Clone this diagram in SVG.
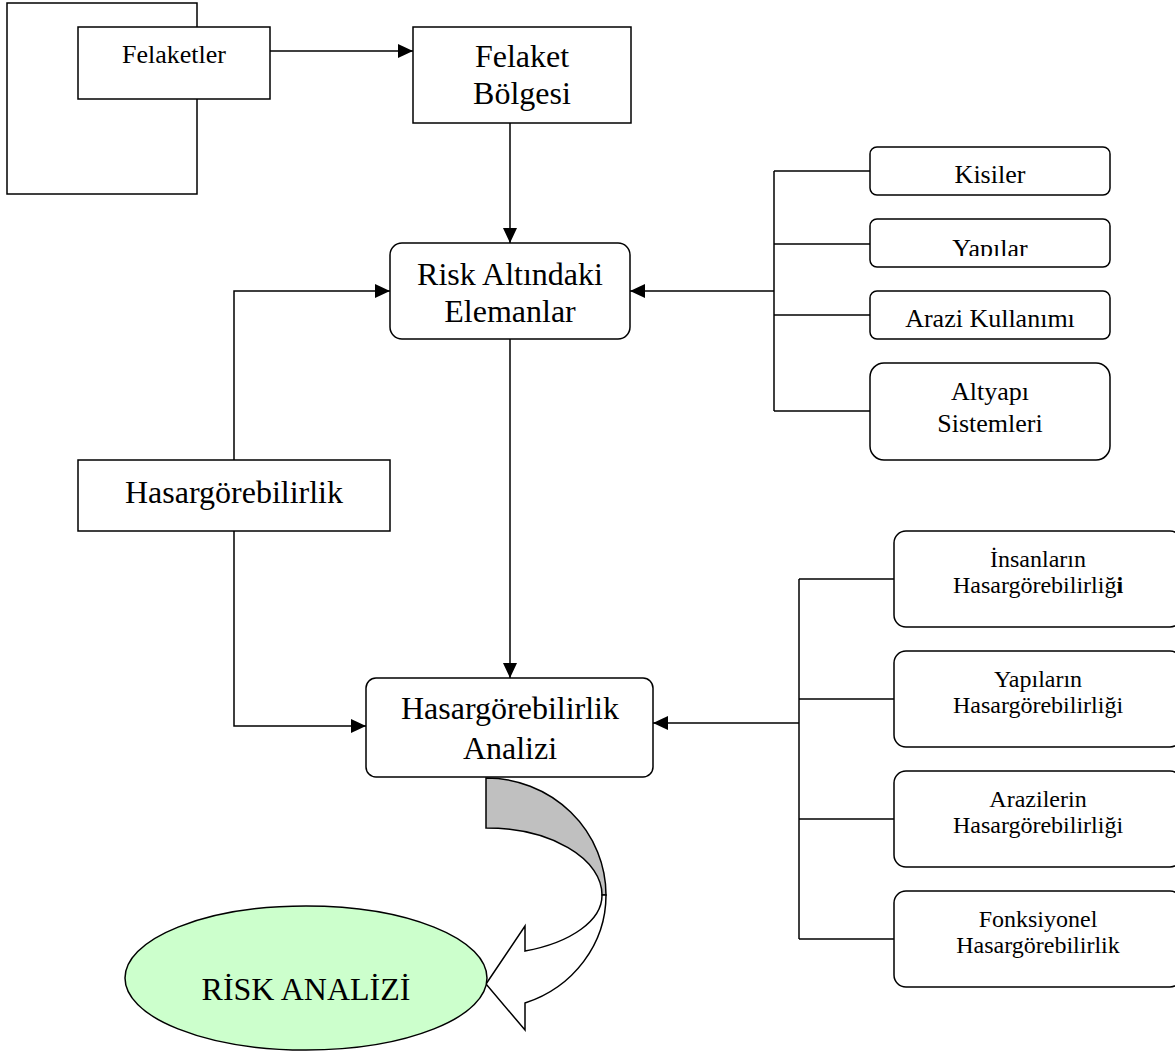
<svg xmlns="http://www.w3.org/2000/svg" width="1175" height="1059" viewBox="0 0 1175 1059">
<style>
.bx{fill:#fff;stroke:#000;stroke-width:1.5}
.ln{fill:none;stroke:#000;stroke-width:1.5}
.t{font-family:"Liberation Serif","Times New Roman",serif;fill:#000;text-anchor:middle}
.s26{font-size:26px}
.s24{font-size:24px}
.s32{font-size:32px}
</style>
<defs>
<marker id="ah" markerUnits="userSpaceOnUse" markerWidth="16" markerHeight="14" refX="15" refY="7" orient="auto">
<path d="M0,0 L15,7 L0,14 Z" fill="#000"/>
</marker>
<clipPath id="yclip"><rect x="870" y="219" width="240" height="37"/></clipPath>
</defs>
<rect width="1175" height="1059" fill="#fff"/>

<g id="connectors">
<line class="ln" x1="270" y1="51" x2="413" y2="51" marker-end="url(#ah)"/>
<line class="ln" x1="510" y1="123" x2="510" y2="243" marker-end="url(#ah)"/>
<polyline class="ln" points="234,460 234,291 390,291" marker-end="url(#ah)"/>
<line class="ln" x1="774" y1="171" x2="774" y2="411"/>
<line class="ln" x1="774" y1="171" x2="870" y2="171"/>
<line class="ln" x1="774" y1="244" x2="870" y2="244"/>
<line class="ln" x1="774" y1="315" x2="870" y2="315"/>
<line class="ln" x1="774" y1="411" x2="870" y2="411"/>
<line class="ln" x1="774" y1="291" x2="630" y2="291" marker-end="url(#ah)"/>
<line class="ln" x1="510" y1="339" x2="510" y2="678" marker-end="url(#ah)"/>
<polyline class="ln" points="234,531 234,726 366,726" marker-end="url(#ah)"/>
<line class="ln" x1="799" y1="579" x2="799" y2="939"/>
<line class="ln" x1="799" y1="579" x2="894" y2="579"/>
<line class="ln" x1="799" y1="699" x2="894" y2="699"/>
<line class="ln" x1="799" y1="819" x2="894" y2="819"/>
<line class="ln" x1="799" y1="939" x2="894" y2="939"/>
<line class="ln" x1="799" y1="723" x2="653" y2="723" marker-end="url(#ah)"/>
</g>

<g id="frame">
<rect class="bx" x="7" y="3" width="190" height="191"/>
</g>
<g id="felaketler">
<rect class="bx" x="78" y="27" width="192" height="72"/>
<text class="t s26" x="174" y="63">Felaketler</text>
</g>
<g id="felaket-bolgesi">
<rect class="bx" x="413" y="27" width="218" height="96"/>
<text class="t s32" x="522" y="67">Felaket</text>
<text class="t s32" x="522" y="104">Bölgesi</text>
</g>
<g id="risk-altindaki">
<rect class="bx" x="390" y="243" width="240" height="96" rx="12"/>
<text class="t s32" x="510" y="285">Risk Altındaki</text>
<text class="t s32" x="510" y="322">Elemanlar</text>
</g>
<g id="kisiler">
<rect class="bx" x="870" y="147" width="240" height="48" rx="7"/>
<text class="t s26" x="990" y="183">Kisiler</text>
</g>
<g id="yapilar">
<rect class="bx" x="870" y="219" width="240" height="48" rx="7"/>
<text class="t s26" x="990" y="257" clip-path="url(#yclip)">Yapılar</text>
</g>
<g id="arazi-kullanimi">
<rect class="bx" x="870" y="291" width="240" height="48" rx="7"/>
<text class="t s26" x="990" y="327">Arazi Kullanımı</text>
</g>
<g id="altyapi">
<rect class="bx" x="870" y="363" width="240" height="97" rx="14"/>
<text class="t s26" x="990" y="400">Altyapı</text>
<text class="t s26" x="990" y="432">Sistemleri</text>
</g>
<g id="hasargorebilirlik">
<rect class="bx" x="78" y="460" width="312" height="71"/>
<text class="t s32" x="234" y="503">Hasargörebilirlik</text>
</g>
<g id="hasargorebilirlik-analizi">
<rect class="bx" x="366" y="678" width="287" height="99" rx="10"/>
<text class="t s32" x="510" y="719">Hasargörebilirlik</text>
<text class="t s32" x="510" y="759">Analizi</text>
</g>
<g id="insanlarin">
<rect class="bx" x="894" y="531" width="288" height="96" rx="12"/>
<text class="t s24" x="1038" y="567">İnsanların</text>
<text class="t s24" x="1038" y="593">Hasargörebilirliğ<tspan font-weight="bold">i</tspan></text>
</g>
<g id="yapilarin">
<rect class="bx" x="894" y="651" width="288" height="96" rx="12"/>
<text class="t s24" x="1038" y="687">Yapıların</text>
<text class="t s24" x="1038" y="713">Hasargörebilirliği</text>
</g>
<g id="arazilerin">
<rect class="bx" x="894" y="771" width="288" height="96" rx="12"/>
<text class="t s24" x="1038" y="807">Arazilerin</text>
<text class="t s24" x="1038" y="833">Hasargörebilirliği</text>
</g>
<g id="fonksiyonel">
<rect class="bx" x="894" y="891" width="288" height="96" rx="12"/>
<text class="t s24" x="1038" y="927">Fonksiyonel</text>
<text class="t s24" x="1038" y="953">Hasargörebilirlik</text>
</g>
<g id="curved-arrow">
<path d="M486,778 A120,117 0 0 1 606,895 L602,895 A116,67 0 0 0 486,828 Z" fill="#c0c0c0" stroke="#000" stroke-width="1.5"/>
<path d="M606,895 A120,114 0 0 1 525,1003 L525,1030 L486,984 L525,926 L525,951 A116,59 0 0 0 602,895 Z" fill="#fff" stroke="#000" stroke-width="1.5"/>
</g>
<g id="risk-analizi">
<ellipse cx="306" cy="978" rx="181" ry="72" fill="#ccffcc" stroke="#000" stroke-width="1.5"/>
<text class="t s32" x="306" y="1000">RİSK ANALİZİ</text>
</g>
</svg>
